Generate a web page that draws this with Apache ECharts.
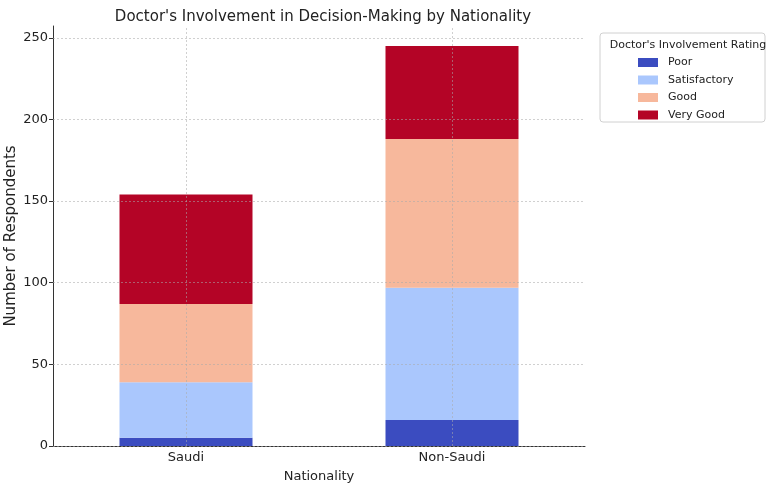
<!DOCTYPE html>
<html>
<head>
<meta charset="utf-8">
<script src="https://cdn.jsdelivr.net/npm/echarts@6/dist/echarts.min.js"></script>
<style>
html, body { margin: 0; padding: 0; background: #fff; }
#chart { width: 767px; height: 488px; }
</style>
</head>
<body>
<div id="chart"></div>
<script>
// data
var categories = ['Saudi', 'Non-Saudi'];
var ratings = ['Poor', 'Satisfactory', 'Good', 'Very Good'];
var poor = [5, 16];
var satisfactory = [34, 81];
var good = [48, 91];
var veryGood = [67, 57];
var yTicks = [0, 50, 100, 150, 200, 250];

var colors = ['#3b4cc0', '#aac7fd', '#f7b89c', '#b40426'];
var values = [poor, satisfactory, good, veryGood];

var font = 'DejaVu Sans';
var gridStyle = { color: 'rgba(170,170,170,0.55)', width: 1, type: [2, 2] };

var series = ratings.map(function (name, i) {
    var s = {
        name: name,
        type: 'bar',
        stack: 'total',
        barWidth: '50%',
        itemStyle: { color: colors[i] },
        emphasis: { disabled: true },
        data: values[i]
    };
    if (i === ratings.length - 1) {
        // grid lines drawn over the bars, like the original
        s.markLine = {
            silent: true,
            symbol: 'none',
            label: { show: false },
            lineStyle: gridStyle,
            data: yTicks.map(function (v) { return { yAxis: v }; })
                .concat(categories.map(function (c) { return { xAxis: c }; }))
        };
    }
    return s;
});

var myChart = echarts.init(document.getElementById('chart'));
var option = {
    animation: false,
    textStyle: { fontFamily: font },
    title: [{
        text: "Doctor's Involvement in Decision-Making by Nationality",
        left: 318,
        textAlign: 'center',
        top: 5,
        textStyle: { fontFamily: font, fontSize: 15, fontWeight: 'normal', color: '#222' }
    }, {
        text: "Doctor's Involvement Rating",
        left: 683,
        textAlign: 'center',
        top: 35,
        textStyle: { fontFamily: font, fontSize: 11, fontWeight: 'normal', color: '#222' }
    }],
    graphic: [{
        type: 'rect',
        shape: { x: 600, y: 33, width: 165, height: 89, r: 3 },
        style: { fill: 'rgba(255,255,255,0.8)', stroke: '#d0d0d0', lineWidth: 1 },
        z: -1
    }],
    legend: {
        orient: 'vertical',
        left: 633,
        top: 52,
        itemWidth: 20,
        itemHeight: 9,
        itemGap: 6.5,
        icon: 'rect',
        data: ratings,
        textStyle: { fontFamily: font, fontSize: 11, color: '#222', padding: [0, 0, 0, 5] }
    },
    grid: { left: 53, right: 182, top: 26, bottom: 42, outerBoundsMode: 'none' },
    xAxis: {
        type: 'category',
        data: categories,
        name: 'Nationality',
        nameLocation: 'middle',
        nameGap: 24,
        nameMoveOverlap: false,
        nameTextStyle: { fontFamily: font, fontSize: 13, color: '#222' },
        axisLine: { lineStyle: { color: '#333', width: 1 } },
        axisTick: { alignWithLabel: true, length: 4, lineStyle: { color: '#333' } },
        axisLabel: { fontFamily: font, fontSize: 13, color: '#222', margin: 5 },
        splitLine: { show: false }
    },
    yAxis: {
        type: 'value',
        min: 0,
        max: 257.25,
        interval: 50,
        name: 'Number of Respondents',
        nameLocation: 'middle',
        nameGap: 34,
        nameRotate: 90,
        nameMoveOverlap: false,
        nameTextStyle: { fontFamily: font, fontSize: 15, color: '#222' },
        axisLine: { show: true, lineStyle: { color: '#333', width: 1 } },
        axisTick: { show: true, length: 4, lineStyle: { color: '#333' } },
        axisLabel: { fontFamily: font, fontSize: 13, color: '#222', margin: 5, showMaxLabel: false },
        splitLine: { show: false }
    },
    series: series
};
myChart.setOption(option);
</script>
</body>
</html>
